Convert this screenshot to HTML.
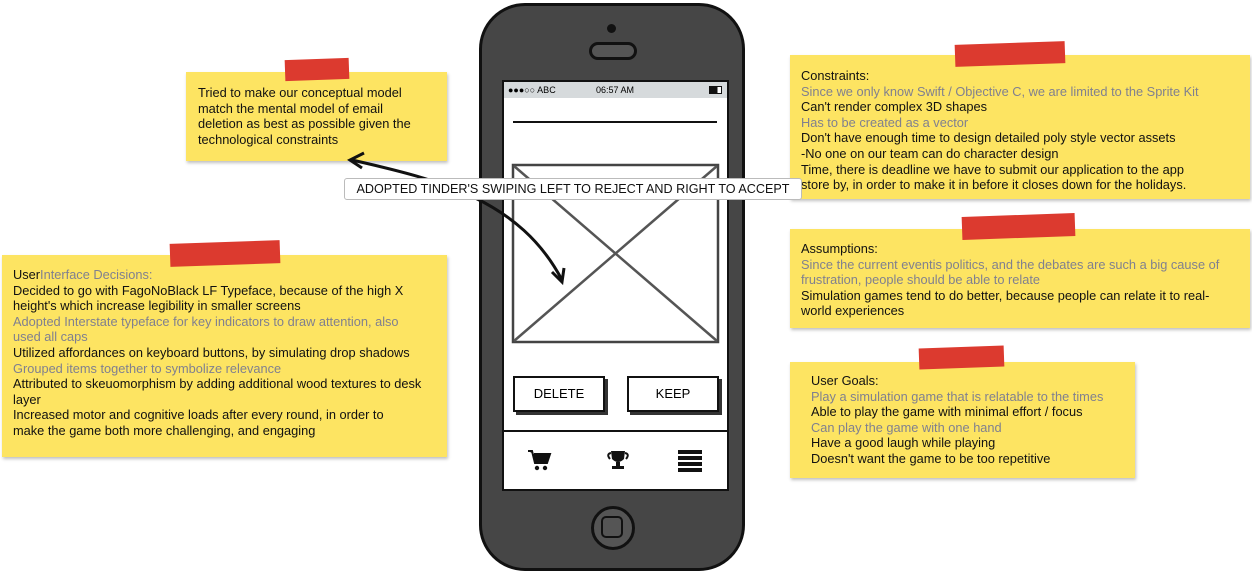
<!DOCTYPE html>
<html><head><style>
body{margin:0;width:1252px;height:573px;background:#fff;position:relative;overflow:hidden;font-family:"Liberation Sans",sans-serif;}
.n{position:absolute;background:#fde462;box-shadow:1px 2px 3px rgba(0,0,0,.25);font-size:12.8px;line-height:15.6px;color:#111;box-sizing:border-box;white-space:nowrap;}
.t{position:absolute;background:#dc3a2f;transform:rotate(-2deg);}
.g{color:#80808f;}
.a{position:absolute;}
</style></head><body>
<div class="a" style="left:479px;top:3px;width:266px;height:568px;background:#464646;border:3px solid #111;border-radius:46px;box-sizing:border-box"></div>
<div class="a" style="left:607px;top:24px;width:9px;height:9px;background:#111;border-radius:50%"></div>
<div class="a" style="left:589px;top:42px;width:42px;height:12px;border:3px solid #111;border-radius:10px;background:#555"></div>
<div class="a" style="left:502px;top:80px;width:227px;height:411px;background:#fff;border:2px solid #111;box-sizing:border-box"></div>
<div class="a" style="left:504px;top:82px;width:223px;height:16px;background:#d6dadc;font-size:9px;line-height:16px">
<span style="position:absolute;left:4px">●●●○○ ABC</span><span style="position:absolute;left:92px">06:57 AM</span>
<span style="position:absolute;left:205px;top:4px;width:11px;height:6px;border:1px solid #111;background:linear-gradient(90deg,#111 70%,#fff 70%)"></span></div>
<div class="a" style="left:513px;top:121px;width:204px;height:2px;background:#111"></div>
<svg class="a" style="left:511px;top:163px" width="209" height="181"><rect x="2" y="2" width="205" height="177" fill="#fff" stroke="#444" stroke-width="2.5"/><line x1="3" y1="3" x2="206" y2="178" stroke="#555" stroke-width="2.5"/><line x1="206" y1="3" x2="3" y2="178" stroke="#555" stroke-width="2.5"/></svg>
<div class="a" style="left:513px;top:376px;width:88px;height:32px;border:2px solid #111;box-shadow:3px 3px 0 #333;font-size:13px;line-height:32px;text-align:center;background:#fff">DELETE</div>
<div class="a" style="left:627px;top:376px;width:88px;height:32px;border:2px solid #111;box-shadow:3px 3px 0 #333;font-size:13px;line-height:32px;text-align:center;background:#fff">KEEP</div>
<div class="a" style="left:504px;top:430px;width:223px;height:2px;background:#111"></div>
<svg class="a" style="left:526px;top:448px" width="200" height="26">
<path d="M2,3 L6,3 L9,15 L21,15 L24,6 L8,6" fill="#111" stroke="#111" stroke-width="2"/><circle cx="11" cy="20" r="2.2" fill="#111"/><circle cx="19" cy="20" r="2.2" fill="#111"/>
<path d="M85,3 L99,3 L98,11 Q92,17 86,11 Z" fill="#111"/><path d="M85,5 Q80,6 84,11 M99,5 Q104,6 100,11" fill="none" stroke="#111" stroke-width="2"/><rect x="90" y="14" width="4" height="4" fill="#111"/><rect x="86" y="18" width="12" height="3" fill="#111"/>
<rect x="152" y="2" width="24" height="4" fill="#111"/><rect x="152" y="8" width="24" height="4" fill="#111"/><rect x="152" y="14" width="24" height="4" fill="#111"/><rect x="152" y="20" width="24" height="4" fill="#111"/>
</svg>
<div class="a" style="left:591px;top:506px;width:38px;height:38px;border:3px solid #111;border-radius:50%;background:#555"></div>
<div class="a" style="left:601px;top:516px;width:18px;height:18px;border:2px solid #111;border-radius:5px"></div>
<div class="n" style="left:186px;top:72px;width:261px;height:89px;padding:13px 0 0 12px">Tried to make our conceptual model<br>match the mental model of email<br>deletion as best as possible given the<br>technological constraints</div>
<div class="t" style="left:285px;top:59px;width:64px;height:21px"></div>
<div class="n" style="left:2px;top:255px;width:445px;height:202px;padding:12px 0 0 11px">User<span class="g">Interface Decisions:</span><br>Decided to go with FagoNoBlack LF Typeface, because of the high X<br>height's which increase legibility in smaller screens<br><span class="g">Adopted Interstate typeface for key indicators to draw attention, also<br>used all caps</span><br>Utilized affordances on keyboard buttons, by simulating drop shadows<br><span class="g">Grouped items together to symbolize relevance</span><br>Attributed to skeuomorphism by adding additional wood textures to desk<br>layer<br>Increased motor and cognitive loads after every round, in order to<br>make the game both more challenging, and engaging</div>
<div class="t" style="left:170px;top:242px;width:110px;height:23px"></div>
<div class="n" style="left:790px;top:55px;width:460px;height:144px;padding:13px 0 0 11px">Constraints:<br><span class="g">Since we only know Swift / Objective C, we are limited to the Sprite Kit</span><br>Can't render complex 3D shapes<br><span class="g">Has to be created as a vector</span><br>Don't have enough time to design detailed poly style vector assets<br>-No one on our team can do character design<br>Time, there is deadline we have to submit our application to the app<br>store by, in order to make it in before it closes down for the holidays.</div>
<div class="t" style="left:955px;top:43px;width:110px;height:22px"></div>
<div class="n" style="left:790px;top:229px;width:460px;height:99px;padding:12px 0 0 11px">Assumptions:<br><span class="g">Since the current eventis politics, and the debates are such a big cause of<br>frustration, people should be able to relate</span><br>Simulation games tend to do better, because people can relate it to real-<br>world experiences</div>
<div class="t" style="left:962px;top:215px;width:113px;height:23px"></div>
<div class="n" style="left:790px;top:362px;width:345px;height:116px;padding:11px 0 0 21px">User Goals:<br><span class="g">Play a simulation game that is relatable to the times</span><br>Able to play the game with minimal effort / focus<br><span class="g">Can play the game with one hand</span><br>Have a good laugh while playing<br>Doesn't want the game to be too repetitive</div>
<div class="t" style="left:919px;top:347px;width:85px;height:21px"></div>
<svg class="a" style="left:0;top:0" width="1252" height="573">
<path d="M352,160 C440,180 520,200 562,280" fill="none" stroke="#111" stroke-width="3"/>
<path d="M364,153 L350,160 L362,168" fill="none" stroke="#111" stroke-width="3"/>
<path d="M552,272 L562,282 L564,268" fill="none" stroke="#111" stroke-width="3"/>
</svg>
<div class="a" style="left:344px;top:178px;width:456px;height:20px;background:#fff;border:1px solid #bbb;border-radius:3px;font-size:12.6px;line-height:20px;text-align:center;color:#111">ADOPTED TINDER'S SWIPING LEFT TO REJECT AND RIGHT TO ACCEPT</div>
</body></html>
